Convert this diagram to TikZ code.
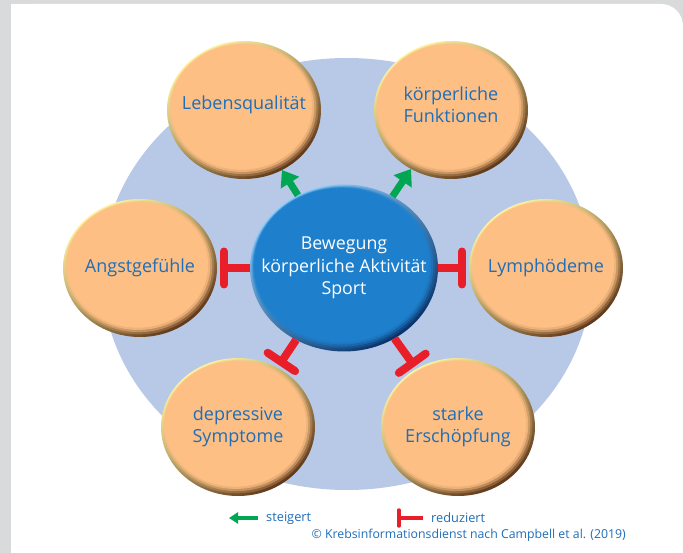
\documentclass[tikz,border=0pt]{standalone}
\usepackage{fontspec}
\setmainfont{Open Sans}
\usetikzlibrary{shapes.geometric,arrows.meta}
\definecolor{bgrey}{RGB}{217,218,220}
\definecolor{halo}{RGB}{184,201,232}
\definecolor{orbody}{RGB}{253,191,132}
\definecolor{orlight}{RGB}{255,248,165}
\definecolor{ordark}{RGB}{95,55,25}
\definecolor{blbody}{RGB}{30,128,205}
\definecolor{bllight}{RGB}{140,205,250}
\definecolor{bldark}{RGB}{8,50,105}
\definecolor{txtblue}{RGB}{30,110,185}
\definecolor{agreen}{RGB}{0,166,81}
\definecolor{ared}{RGB}{232,30,40}
\tikzset{
  ortext/.style={text=txtblue, align=center, font=\fontsize{18}{22}\selectfont, inner sep=0pt},
  bltext/.style={text=white, align=center, font=\fontsize{17.8}{22.5}\selectfont, inner sep=0pt},
  orshape/.style={ellipse, minimum width=154pt, minimum height=138pt, inner sep=0pt, outer sep=0pt,
    top color=orlight, middle color=orbody, bottom color=ordark, shading angle=35,
    path picture={
      \fill[orbody,opacity=0.25] ([xshift=-0.6pt,yshift=0.7pt]path picture bounding box.center) ellipse (75pt and 67pt);
      \fill[orbody,opacity=0.45] ([xshift=-1.2pt,yshift=1.4pt]path picture bounding box.center) ellipse (73.5pt and 65.5pt);
      \fill[orbody,opacity=0.7] ([xshift=-1.8pt,yshift=2.1pt]path picture bounding box.center) ellipse (72pt and 64pt);
      \fill[orbody] ([xshift=-2.4pt,yshift=2.8pt]path picture bounding box.center) ellipse (70.5pt and 62.5pt);
    }},
  orangeball/.style={orshape, label={[ortext]center:{#1}}},
  orangeballup/.style={orshape, label={[ortext,yshift=5pt]center:{#1}}},
  blueball/.style={ellipse, minimum width=188pt, minimum height=167pt, inner sep=0pt, outer sep=0pt,
    top color=bllight, middle color=blbody, bottom color=bldark, shading angle=35,
    path picture={
      \fill[blbody,opacity=0.25] ([xshift=-0.6pt,yshift=0.7pt]path picture bounding box.center) ellipse (92pt and 81.5pt);
      \fill[blbody,opacity=0.45] ([xshift=-1.2pt,yshift=1.4pt]path picture bounding box.center) ellipse (90.5pt and 80pt);
      \fill[blbody,opacity=0.7] ([xshift=-1.8pt,yshift=2.1pt]path picture bounding box.center) ellipse (89pt and 78.5pt);
      \fill[blbody] ([xshift=-2.4pt,yshift=2.8pt]path picture bounding box.center) ellipse (87.5pt and 77pt);
    },
    label={[bltext]center:{#1}}},
  incr/.style={draw=agreen, line width=7pt, -{Triangle[width=21pt,length=15pt]}},
  redu/.style={draw=ared, line width=8pt, shorten >=3pt, -{Bar[width=33pt,round]}},
  incrleg/.style={draw=agreen, line width=4pt, -{Triangle[width=11pt,length=9pt]}},
  reduleg/.style={draw=ared, line width=3.5pt, -{Bar[width=16pt,round]}},
  legtext/.style={text=txtblue, font=\fontsize{12.8}{15}\selectfont, inner sep=0pt},
  cptext/.style={text=txtblue, font=\fontsize{12.3}{15}\selectfont, inner sep=0pt}
}
\begin{document}
\begin{tikzpicture}[x=1pt,y=-1pt]
  \useasboundingbox (0,0) rectangle (683,553);
  \fill[bgrey] (0,0) rectangle (683,553);
  \fill[white, rounded corners=22pt] (11,4) rectangle (683,600);
  \fill[white] (11,4) rectangle (60,60);
  \fill[halo] (347,274) ellipse (245pt and 216pt);

  \node[blueball={Bewegung\\körperliche Aktivität\\Sport}] (c) at (344,268) {};
  \node[orangeballup={Lebensqualität}] (lq) at (244,110) {};
  \node[orangeballup={körperliche\\Funktionen}] (kf) at (451,110) {};
  \node[orangeball={Angstgefühle}] (ag) at (140,268) {};
  \node[orangeball={Lymphödeme}] (ly) at (546,268) {};
  \node[orangeball={depressive\\Symptome}] (ds) at (238,427) {};
  \node[orangeball={starke\\Erschöpfung}] (se) at (458,427) {};

  \draw[incr] (c) -- (lq);
  \draw[incr] (c) -- (kf);
  \draw[redu] (c) -- (ag);
  \draw[redu] (c) -- (ly);
  \draw[redu] (c) -- (ds);
  \draw[redu] (c) -- (se);

  \coordinate (g1) at (258,518);
  \coordinate (g2) at (229,518);
  \draw[incrleg] (g1) -- (g2);
  \node[legtext, anchor=west] (st) at (266,518) {steigert};
  \coordinate (r1) at (423,518);
  \coordinate (r2) at (397,518);
  \draw[reduleg] (r1) -- (r2);
  \node[legtext, anchor=west] (rd) at (431,518) {reduziert};
  \node[cptext, anchor=east] (cp) at (626,535) {© Krebsinformationsdienst nach Campbell et al. (2019)};
\end{tikzpicture}
\end{document}
